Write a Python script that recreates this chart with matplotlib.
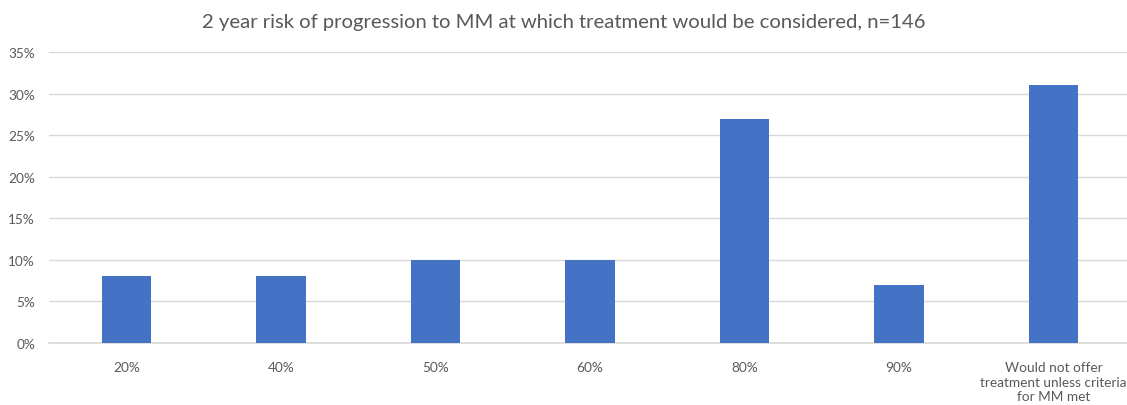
import matplotlib
matplotlib.use("Agg")
import matplotlib.pyplot as plt
from matplotlib.ticker import PercentFormatter

plt.rcParams['font.family'] = ['Lato', 'DejaVu Sans']

categories = ['20%', '40%', '50%', '60%', '80%', '90%',
              'Would not offer\ntreatment unless criteria\nfor MM met']
shares = [8, 8, 10, 10, 27, 7, 31]
yticks = [0, 5, 10, 15, 20, 25, 30, 35]

fig = plt.figure(figsize=(11.27, 4.06), dpi=100)
ax = fig.add_axes([49 / 1127, 62 / 406, 1082 / 1127, 291 / 406])

x = range(len(categories))
ax.bar(x, shares, width=0.32, color='#4472C4', zorder=3)

ax.set_xlim(-0.5, len(categories) - 0.5)
ax.set_ylim(0, 35)
ax.set_yticks(yticks)
ax.yaxis.set_major_formatter(PercentFormatter(decimals=0))
ax.set_xticks(list(x))
ax.set_xticklabels(categories, linespacing=1.25)

ax.grid(axis='y', color='#D9D9D9', linewidth=1, zorder=0)
for side in ['top', 'right', 'left']:
    ax.spines[side].set_visible(False)
ax.spines['bottom'].set_color('#D9D9D9')
ax.spines['bottom'].set_linewidth(1.2)
ax.tick_params(axis='both', length=0, colors='#595959', labelsize=9.8)
ax.tick_params(axis='x', pad=13)
ax.tick_params(axis='y', pad=10)

fig.text(0.5, 0.945, '2 year risk of progression to MM at which treatment would be considered, n=146',
         ha='center', va='center', fontsize=14.6, color='#595959')

fig.savefig('out.png', dpi=100)
